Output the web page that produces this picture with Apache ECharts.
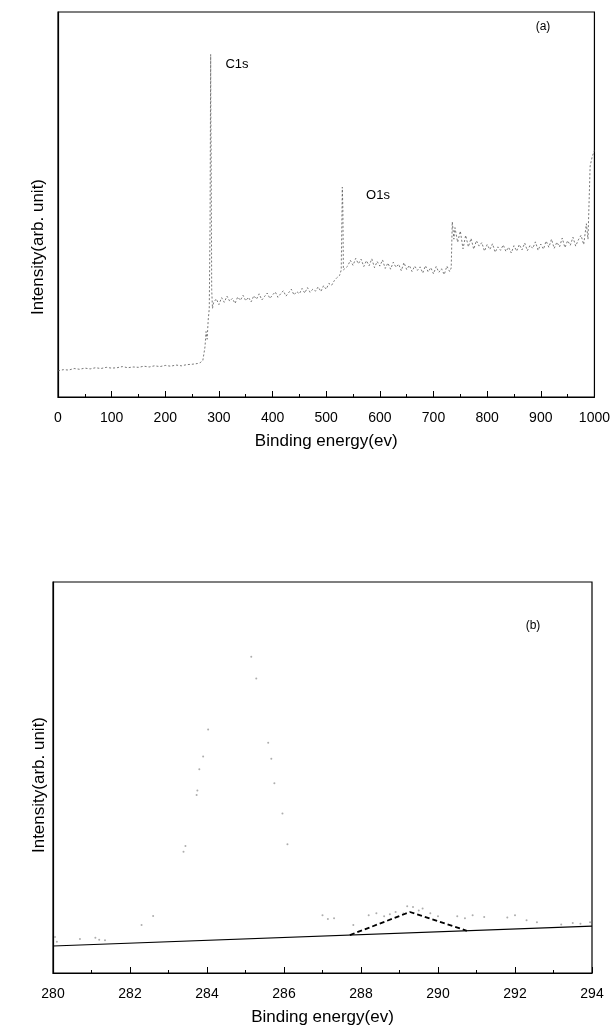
<!DOCTYPE html>
<html>
<head>
<meta charset="utf-8">
<script src="https://cdn.jsdelivr.net/npm/echarts@6/dist/echarts.min.js"></script>
<style>
  html, body { margin: 0; padding: 0; background: #fff; }
  #box { width: 613px; height: 1027px; }
</style>
</head>
<body>
<div id="box"></div>
<script>
// survey spectrum (a): [binding energy, intensity in arb. units]
var survey = [
  [0, 6.8], [10, 7.1], [20, 7.0], [30, 7.4], [40, 7.2], [50, 7.5], [60, 7.3], [70, 7.6],
  [80, 7.4], [90, 7.7], [100, 7.5], [110, 7.6], [120, 7.9], [130, 7.6], [140, 7.8], [150, 7.7],
  [160, 8.0], [170, 7.8], [180, 8.1], [190, 7.9], [200, 8.2], [210, 8.0], [220, 8.3], [230, 8.1],
  [240, 8.4], [250, 8.5], [260, 8.7], [265, 8.9], [270, 9.5], [274, 13], [276, 17], [278, 15],
  [280, 20], [282, 23], [283.5, 45], [284.6, 89], [285.0, 72], [285.5, 64], [286.5, 28], [288, 23],
  [290, 24.5], [295, 25.5], [300, 24.0], [305, 25.8], [310, 24.6], [315, 26.2], [320, 24.9], [325, 25.6],
  [330, 24.3], [335, 26.0], [340, 25.1], [345, 26.4], [350, 25.0], [355, 25.9], [360, 24.7], [365, 26.3],
  [370, 25.4], [375, 26.8], [380, 25.2], [385, 26.1], [390, 27.0], [395, 25.6], [400, 26.5], [405, 27.3],
  [410, 25.9], [415, 26.8], [420, 27.6], [425, 26.2], [430, 27.1], [435, 28.0], [440, 26.5], [445, 27.4],
  [450, 26.8], [455, 28.2], [460, 27.0], [465, 28.4], [470, 27.2], [475, 28.0], [480, 27.5], [485, 28.6],
  [490, 27.4], [495, 28.9], [500, 28.0], [505, 29.5], [510, 29.0], [515, 30.2], [520, 31.0], [525, 31.6],
  [528, 33], [530, 54.5], [531, 49], [532, 33], [535, 32.5], [540, 34.0], [545, 35.5], [550, 34.2],
  [555, 36.0], [560, 34.6], [565, 35.8], [570, 33.9], [575, 35.4], [580, 34.1], [585, 35.9], [590, 33.6],
  [595, 35.2], [600, 34.0], [605, 35.6], [610, 33.4], [615, 34.8], [620, 33.2], [625, 35.0], [630, 33.7],
  [635, 34.5], [640, 32.8], [645, 34.9], [650, 33.1], [655, 34.2], [660, 32.6], [665, 34.0], [670, 32.9],
  [675, 33.8], [680, 32.2], [685, 34.1], [690, 32.5], [695, 33.6], [700, 32.0], [705, 33.9], [710, 32.4],
  [715, 33.3], [720, 31.8], [725, 34.0], [730, 32.6], [733, 33.5], [735, 45.5], [738, 41.0], [740, 44.0],
  [745, 40.2], [750, 43.1], [755, 38.5], [760, 42.0], [765, 39.0], [770, 41.2], [775, 38.4], [780, 40.6],
  [785, 39.2], [790, 40.1], [795, 37.9], [800, 39.6], [805, 38.3], [810, 39.8], [815, 37.6], [820, 39.0],
  [825, 38.1], [830, 39.5], [835, 37.8], [840, 38.9], [845, 37.4], [850, 39.3], [855, 37.9], [860, 39.6],
  [865, 38.2], [870, 40.0], [875, 38.0], [880, 39.4], [885, 38.6], [890, 40.3], [895, 38.1], [900, 39.7],
  [905, 38.4], [910, 40.5], [915, 38.9], [920, 41.0], [925, 38.6], [930, 40.2], [935, 39.0], [940, 41.3],
  [945, 38.8], [950, 40.6], [955, 39.4], [960, 41.5], [965, 39.2], [970, 40.8], [975, 42.0], [980, 39.6],
  [985, 45.0], [988, 41.0], [992, 60.0], [996, 62.5], [1000, 64.0]
];

// C1s detail (b): measured points
var c1sPoints = [
  [280.05, 9.2], [280.1, 8.0], [280.7, 8.7], [281.1, 9.0], [281.2, 8.5], [281.35, 8.4], [282.3, 12.3], [282.6, 14.6],
  [283.39, 31.0], [283.44, 32.5], [283.73, 45.5], [283.75, 46.7], [283.8, 52.1], [283.9, 55.4], [284.03, 62.3],
  [285.15, 80.9], [285.28, 75.3], [285.59, 58.9], [285.67, 54.8], [285.75, 48.5], [285.96, 40.8], [286.09, 32.9],
  [287.0, 14.8], [287.14, 13.8], [287.3, 14.0], [287.8, 12.3], [288.2, 14.8], [288.4, 15.3], [288.6, 14.5],
  [288.75, 15.0], [288.9, 15.6], [289.1, 15.2], [289.2, 17.1], [289.35, 16.9], [289.5, 16.0], [289.6, 16.5],
  [289.8, 15.3], [290.0, 14.5], [290.5, 14.5], [290.7, 14.0], [290.9, 14.8], [291.2, 14.3], [291.8, 14.2],
  [292.0, 14.8], [292.3, 13.5], [292.57, 13.0], [293.2, 12.4], [293.5, 12.8], [293.7, 12.6], [293.95, 13.0]
];
var c1sBackground = [[280, 6.9], [294, 12.0]];
var c1sFitPeak = [[287.71, 9.7], [289.27, 15.6], [290.75, 10.8]];

var surveyTicks = { min: 0, max: 1000, interval: 100 };
var detailTicks = { min: 280, max: 294, interval: 2 };

var myChart = echarts.init(document.getElementById('box'));
var font = 'Liberation Sans, Arial, sans-serif';

function xAx(idx, t) {
  return {
    type: 'value', gridIndex: idx, min: t.min, max: t.max, interval: t.interval,
    name: 'Binding energy(ev)', nameLocation: 'middle', nameGap: 36,
    nameTextStyle: { fontFamily: font, fontSize: 17, color: '#000' },
    axisLine: { onZero: false, lineStyle: { color: '#000', width: 1.2 } },
    axisTick: { inside: true, length: 6, lineStyle: { color: '#000' } },
    minorTick: { show: true, splitNumber: 2, length: 3, lineStyle: { color: '#000' } },
    axisLabel: {
      fontFamily: font, fontSize: 14, color: '#000', margin: 14,
      formatter: function (v) { return String(v); }
    },
    splitLine: { show: false }
  };
}
function yAx(idx) {
  return {
    type: 'value', gridIndex: idx, min: 0, max: 100,
    axisLine: { show: true, lineStyle: { color: '#000', width: 1.2 } },
    axisTick: { show: false }, axisLabel: { show: false }, splitLine: { show: false }
  };
}
function title(text, x, y, size, rot) {
  return {
    type: 'text', x: x, y: y, rotation: rot || 0,
    style: { text: text, fontFamily: font, fontSize: size, fill: '#000', align: 'center', verticalAlign: 'middle' }
  };
}

var option = {
  animation: false,
  grid: [
    { left: 58, top: 12, width: 538, height: 385, show: true, borderColor: '#000', borderWidth: 1.2 },
    { left: 53, top: 582, width: 539, height: 391, show: true, borderColor: '#000', borderWidth: 1.2 }
  ],
  xAxis: [xAx(0, surveyTicks), xAx(1, detailTicks)],
  yAxis: [yAx(0), yAx(1)],
  graphic: [
    title('Intensity(arb. unit)', 38, 247, 17, Math.PI / 2),
    title('Intensity(arb. unit)', 39, 785, 17, Math.PI / 2),
    title('C1s', 237, 64, 13),
    title('O1s', 378, 195, 13),
    title('(a)', 543, 27, 12),
    title('(b)', 533, 626, 12)
  ],
  series: [
    {
      type: 'line', xAxisIndex: 0, yAxisIndex: 0, data: survey, showSymbol: false,
      lineStyle: { color: '#555', width: 0.8, type: [2, 2] }
    },
    {
      type: 'scatter', xAxisIndex: 1, yAxisIndex: 1, data: c1sPoints, symbolSize: 2,
      itemStyle: { color: '#999' }
    },
    {
      type: 'line', xAxisIndex: 1, yAxisIndex: 1, data: c1sBackground, showSymbol: false,
      lineStyle: { color: '#000', width: 1.2 }
    },
    {
      type: 'line', xAxisIndex: 1, yAxisIndex: 1, data: c1sFitPeak, showSymbol: false,
      lineStyle: { color: '#000', width: 1.8, type: [5, 3] }
    }
  ]
};
myChart.setOption(option);
</script>
</body>
</html>
